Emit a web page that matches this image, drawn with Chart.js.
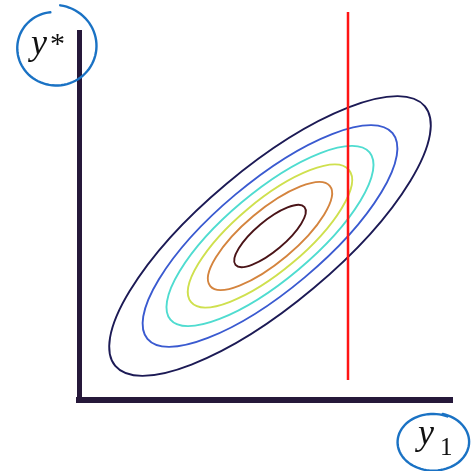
<!DOCTYPE html>
<html>
<head>
<meta charset="utf-8">
<script src="https://cdn.jsdelivr.net/npm/chart.js@4.4.0/dist/chart.umd.min.js"></script>
<style>
  html, body { margin: 0; padding: 0; background: #fff; }
  #wrap { width: 471px; height: 471px; }
</style>
</head>
<body>
<div id="wrap"><canvas id="chart" width="471" height="471"></canvas></div>
<script>
// contour ellipses, innermost first (same units on both axes)
const semiMajor = [45, 78, 103, 130, 160, 202];
const semiMinor = [15, 26, 35, 44, 54, 68];
const centre = { x: 191, y: 164 };
const tiltDeg = 40;

// the cut at a fixed y1
const cutX = [269, 269];
const cutY = [20, 388];

const contourColors = ['#4a1418', '#d4843e', '#cfe04e', '#4fdcd0', '#3a5ad0', '#1c1a55'];
const axisColor = '#26183a';
const penBlue = '#1a72c4';

const contourPlugin = {
    id: 'contours',
    beforeDatasetsDraw(chart) {
        const ctx = chart.ctx;
        const x = chart.scales.x, y = chart.scales.y;
        const cx = x.getPixelForValue(centre.x);
        const cy = y.getPixelForValue(centre.y);
        const sx = x.getPixelForValue(1) - x.getPixelForValue(0);
        const sy = y.getPixelForValue(0) - y.getPixelForValue(1);
        for (let i = 0; i < semiMajor.length; i++) {
            ctx.save();
            ctx.beginPath();
            ctx.save();
            ctx.translate(cx, cy);
            ctx.scale(sx, -sy);
            ctx.rotate(tiltDeg * Math.PI / 180);
            ctx.ellipse(0, 0, semiMajor[i], semiMinor[i], 0, 0, 2 * Math.PI);
            ctx.restore();
            ctx.strokeStyle = contourColors[i];
            ctx.lineWidth = 1.9;
            ctx.stroke();
            ctx.restore();
        }
    }
};

// hand drawn circles round the axis names
function penLoop(ctx, cx, cy, rx, ry, start, turn, grow) {
    ctx.beginPath();
    for (let k = 0; k <= 80; k++) {
        const t = k / 80;
        const a = start + turn * t;
        const f = 1 + grow * (1 - t);
        const px = cx + rx * f * Math.cos(a);
        const py = cy + ry * f * Math.sin(a);
        if (k === 0) ctx.moveTo(px, py); else ctx.lineTo(px, py);
    }
    ctx.stroke();
}

const labelPlugin = {
    id: 'labels',
    afterDraw(chart) {
        const ctx = chart.ctx;
        ctx.save();
        ctx.strokeStyle = penBlue;
        ctx.lineWidth = 2.4;
        ctx.lineCap = 'round';
        penLoop(ctx, 55, 47, 36, 35, -1.45, 2 * Math.PI - 0.25, 0.2);
        penLoop(ctx, 433, 442, 35, 28, -1.3, 2 * Math.PI + 0.15, 0.04);

        ctx.fillStyle = '#111';
        ctx.textBaseline = 'alphabetic';
        ctx.font = 'italic 36px "Liberation Serif"';
        ctx.fillText('y', 31, 54);
        ctx.font = '30px "Liberation Serif"';
        ctx.fillText('*', 50, 53);
        ctx.font = 'italic 36px "Liberation Serif"';
        ctx.fillText('y', 418, 444);
        ctx.font = '25px "Liberation Serif"';
        ctx.fillText('1', 440, 455);
        ctx.restore();
    }
};

new Chart(document.getElementById('chart'), {
    type: 'scatter',
    data: {
        datasets: [{
            data: cutX.map((v, i) => ({ x: v, y: cutY[i] })),
            showLine: true,
            borderColor: '#ff1414',
            borderWidth: 2.5,
            pointRadius: 0,
            clip: false
        }]
    },
    options: {
        responsive: false,
        animation: false,
        layout: { padding: { left: 79, right: 19, top: 32, bottom: 71 } },
        scales: {
            x: {
                min: 0, max: 373,
                grid: { display: false, drawTicks: false },
                ticks: { display: false },
                border: { display: true, color: axisColor, width: 6 }
            },
            y: {
                min: 0, max: 368,
                grid: { display: false, drawTicks: false },
                ticks: { display: false },
                border: { display: true, color: axisColor, width: 5 }
            }
        },
        plugins: {
            legend: { display: false },
            tooltip: { enabled: false }
        }
    },
    plugins: [contourPlugin, labelPlugin]
});
</script>
</body>
</html>
